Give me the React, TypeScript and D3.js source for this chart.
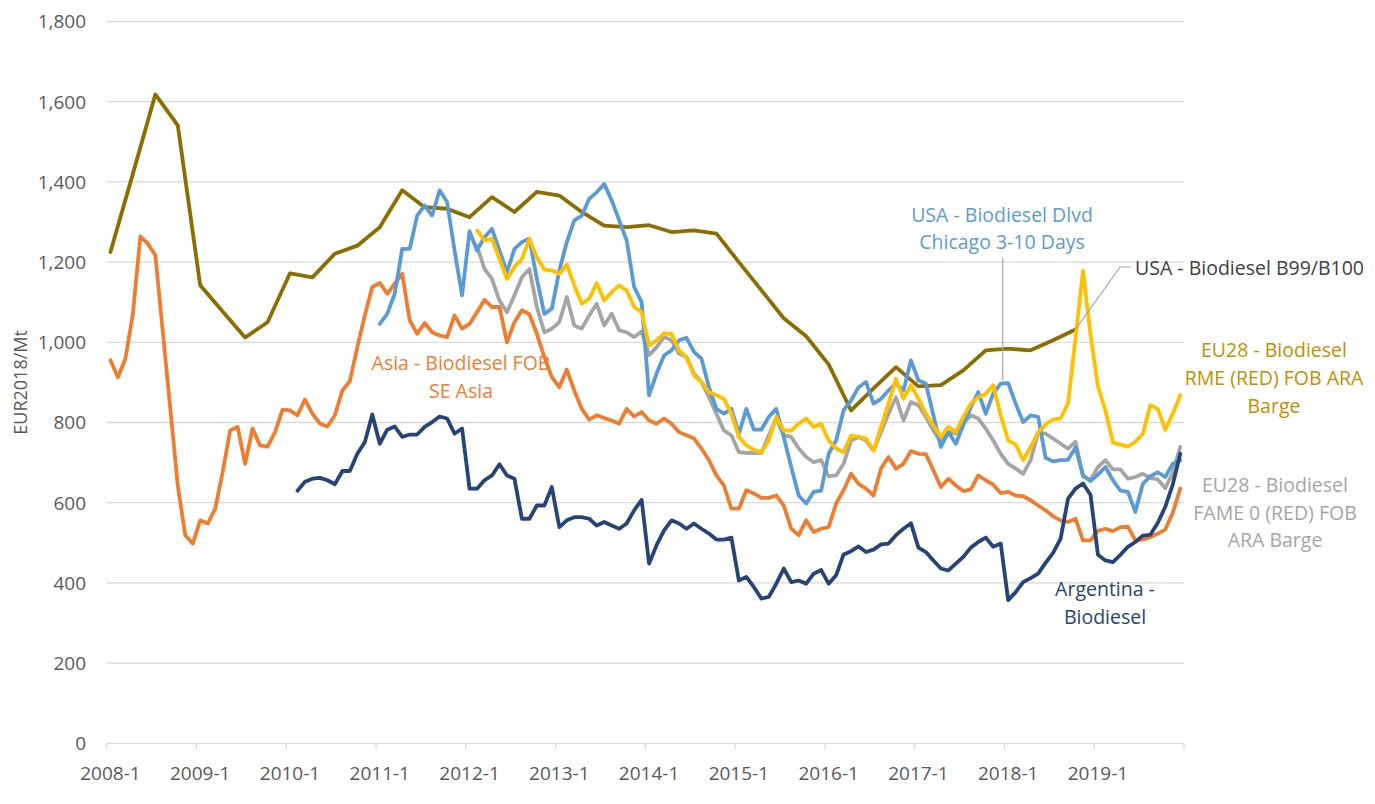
import React from 'react';
import * as d3 from 'd3';

// monthly categories 2008-1 .. 2019-12
const years = d3.range(2008, 2020);
const months: string[] = years.flatMap((yr) => d3.range(1, 13).map((m) => `${yr}-${m}`));
const xTickLabels = years.map((yr) => `${yr}-1`);
const yTicks = [0, 200, 400, 600, 800, 1000, 1200, 1400, 1600, 1800];

// Asia - Biodiesel FOB SE Asia (monthly, from 2008-1)
const asiaStart = '2008-1';
const asiaValues = [
  955, 913, 959, 1071, 1264, 1246, 1217, 1026, 835, 643, 519, 498,
  556, 548, 585, 676, 780, 789, 697, 785, 743, 740, 776, 832,
  830, 818, 857, 822, 797, 790, 818, 880, 903, 988, 1067, 1138,
  1148, 1121, 1146, 1171, 1055, 1021, 1048, 1025, 1017, 1013, 1067, 1034,
  1046, 1075, 1106, 1088, 1088, 1000, 1050, 1080, 1070, 1021, 963, 913,
  888, 932, 880, 834, 807, 818, 811, 805, 797, 834, 815, 826,
  805, 797, 810, 797, 776, 768, 760, 735, 706, 668, 643, 585,
  585, 631, 623, 612, 612, 618, 593, 535, 519, 556, 527, 535,
  539, 598, 631, 672, 647, 635, 618, 685, 714, 685, 697, 729,
  722, 721, 681, 639, 660, 643, 629, 633, 668, 656, 645, 624,
  627, 618, 616, 606, 593, 581, 566, 556, 552, 560, 506, 506,
  530, 535, 529, 539, 540, 506, 508, 514, 523, 533, 575, 635,
];

// Argentina - Biodiesel (monthly, from 2010-2)
const argStart = '2010-2';
const argValues = [
  630, 652, 660, 662, 656, 646, 679, 679, 722, 751, 820,
  747, 782, 790, 764, 770, 770, 789, 801, 815, 810, 772, 785,
  635, 635, 656, 668, 696, 668, 660, 560, 560, 593, 593, 639,
  539, 556, 564, 564, 560, 543, 552, 543, 535, 548, 581, 607,
  448, 494, 531, 556, 548, 535, 548, 535, 523, 508, 508, 513,
  406, 415, 390, 361, 365, 398, 436, 402, 406, 398, 423, 432,
  398, 419, 471, 479, 491, 477, 483, 496, 498, 519, 535, 549,
  488, 477, 456, 436, 431, 448, 465, 488, 502, 513, 490, 498,
  357, 377, 402, 412, 423, 450, 475, 510, 610, 635, 648, 620,
  470, 456, 452, 470, 490, 502, 518, 520, 550, 590, 645, 722,
];

// USA - Biodiesel Dlvd Chicago 3-10 Days (monthly, from 2011-1)
const usaDlvdStart = '2011-1';
const usaDlvdValues = [
  1046, 1071, 1121, 1233, 1233, 1316, 1341, 1316, 1379, 1350, 1229, 1117,
  1277, 1229, 1262, 1283, 1229, 1175, 1233, 1250, 1258, 1158, 1071, 1084,
  1179, 1250, 1304, 1316, 1358, 1374, 1395, 1354, 1304, 1254, 1138, 1100,
  868, 922, 967, 980, 1005, 1011, 976, 959, 888, 834, 822, 834,
  772, 834, 782, 782, 814, 834, 764, 689, 618, 598, 627, 630,
  722, 755, 830, 855, 888, 901, 847, 859, 880, 897, 880, 955,
  905, 897, 818, 739, 776, 747, 793, 838, 876, 822, 872, 897,
  898, 847, 801, 818, 814, 712, 703, 706, 707, 738, 668, 654,
  670, 689, 656, 630, 627, 577, 647, 666, 676, 664, 697, 705,
];

// EU28 - Biodiesel RME (RED) FOB ARA Barge (monthly, from 2012-2)
const rmeStart = '2012-2';
const rmeValues = [
  1279, 1254, 1258, 1208, 1158, 1188, 1208, 1258, 1212, 1181, 1179,
  1171, 1194, 1142, 1096, 1109, 1148, 1104, 1125, 1142, 1129, 1088, 1075,
  992, 1005, 1023, 1021, 980, 963, 917, 901, 876, 868, 859, 822,
  764, 743, 732, 726, 755, 814, 780, 780, 797, 810, 789, 797,
  755, 735, 726, 768, 764, 760, 730, 789, 847, 909, 859, 893,
  859, 822, 793, 764, 789, 776, 814, 847, 863, 872, 893, 818,
  755, 745, 706, 739, 775, 795, 808, 810, 848, 1010, 1178, 1020,
  890, 830, 750, 745, 740, 752, 772, 843, 834, 782, 822, 868,
];

// EU28 - Biodiesel FAME 0 (RED) FOB ARA Barge (monthly, from 2012-2)
const fameStart = '2012-2';
const fameValues = [
  1240, 1183, 1158, 1104, 1075, 1117, 1162, 1183, 1088, 1025, 1034,
  1050, 1113, 1042, 1034, 1067, 1096, 1042, 1071, 1030, 1025, 1013, 1027,
  968, 988, 1013, 1005, 972, 963, 922, 901, 863, 822, 780, 768,
  726, 724, 724, 724, 768, 810, 768, 764, 735, 714, 701, 706,
  666, 668, 697, 755, 764, 755, 730, 776, 822, 863, 805, 851,
  843, 814, 780, 751, 776, 772, 797, 818, 810, 785, 755, 722,
  697, 685, 672, 706, 775, 772, 760, 747, 735, 752, 666, 657,
  689, 706, 683, 683, 660, 664, 672, 662, 658, 636, 675, 739,
];

// USA - Biodiesel B99/B100 (quarterly, 2008-1 .. 2018-10)
const b99Start = '2008-1';
const b99Step = 3;
const b99Values = [
  1225, 1420, 1618, 1541, 1142, 1077, 1012, 1050, 1172, 1162, 1221, 1241,
  1287, 1379, 1337, 1333, 1312, 1362, 1325, 1375, 1366, 1325, 1291, 1287,
  1292, 1275, 1279, 1271, 1200, 1130, 1060, 1015, 945, 830, 885, 938,
  890, 893, 930, 980, 984, 980, 1005, 1032,
];

type Pt = [string, number];

const toPoints = (start: string, values: number[], step = 1): Pt[] => {
  const i0 = months.indexOf(start);
  return values.map((v, i) => [months[i0 + i * step], v] as Pt);
};

const W = 1375;
const H = 804;
const left = 106.7;
const right = 1184;
const top = 21.5;
const bottom = 743.3;
const font = "'Open Sans', sans-serif";

const App: React.FC = () => {
  const x = d3.scaleBand<string>().domain(months).range([left, right]).padding(0);
  const cx = (k: string) => (x(k) as number) + x.bandwidth() / 2;
  const y = d3.scaleLinear().domain([0, 1800]).range([bottom, top]);
  const line = d3
    .line<Pt>()
    .x((d) => cx(d[0]))
    .y((d) => y(d[1]));

  const series = [
    {name: 'b99', pts: toPoints(b99Start, b99Values, b99Step), color: '#8C6D00'},
    {name: 'asia', pts: toPoints(asiaStart, asiaValues), color: '#ED7D31'},
    {name: 'fame', pts: toPoints(fameStart, fameValues), color: '#A5A5A5'},
    {name: 'usa', pts: toPoints(usaDlvdStart, usaDlvdValues), color: '#5B9BD5'},
    {name: 'rme', pts: toPoints(rmeStart, rmeValues), color: '#FFC000'},
    {name: 'arg', pts: toPoints(argStart, argValues), color: '#264478'},
  ];

  // year boundaries for tick marks
  const tickKeys = [...xTickLabels, null];

  // leader anchors taken from the data
  const usaLeaderKey = '2017-12';
  const usaLeaderVal = usaDlvdValues[months.indexOf(usaLeaderKey) - months.indexOf(usaDlvdStart)];
  const b99Last = toPoints(b99Start, b99Values, b99Step).slice(-1)[0];

  return (
    <svg width={W} height={H} style={{position: 'absolute', left: 0, top: 0, background: '#fff'}}>
      {/* gridlines */}
      {yTicks.map((t) => (
        <line key={t} x1={left} x2={right} y1={y(t)} y2={y(t)} stroke="#d9d9d9" strokeWidth={1.3} />
      ))}
      {/* x axis ticks */}
      {tickKeys.map((k, i) => {
        const xx = k ? (x(k) as number) : right;
        return <line key={i} x1={xx} x2={xx} y1={bottom} y2={bottom + 6} stroke="#d9d9d9" strokeWidth={1.3} />;
      })}
      {/* y tick labels */}
      {yTicks.map((t) => (
        <text key={t} x={86} y={y(t)} dy="0.36em" textAnchor="end" fontFamily={font} fontSize={19} fill="#595959">
          {d3.format(',')(t)}
        </text>
      ))}
      {/* x tick labels */}
      {xTickLabels.map((k) => (
        <text key={k} x={cx(k)} y={780} textAnchor="middle" fontFamily={font} fontSize={19} fill="#595959">
          {k}
        </text>
      ))}
      <text
        transform={`translate(21,${(top + bottom) / 2}) rotate(-90)`}
        dy="0.36em"
        textAnchor="middle"
        fontFamily={font}
        fontSize={18}
        fill="#595959"
      >
        EUR2018/Mt
      </text>

      {/* series */}
      {series.map((s) => (
        <path
          key={s.name}
          d={line(s.pts) || ''}
          fill="none"
          stroke={s.color}
          strokeWidth={3.8}
          strokeLinejoin="round"
          strokeLinecap="round"
        />
      ))}

      {/* leader lines */}
      <line x1={cx(usaLeaderKey) + 2} x2={cx(usaLeaderKey) + 2} y1={258} y2={y(usaLeaderVal) - 3} stroke="#a6a6a6" strokeWidth={1.2} />
      <polyline
        points={`${cx(b99Last[0])},${y(b99Last[1])} 1120,267 1131,267`}
        fill="none"
        stroke="#a6a6a6"
        strokeWidth={1.2}
      />

      {/* series labels */}
      <g fontFamily={font} fontSize={19.5} textAnchor="middle">
        <text fill="#5B9BD5">
          <tspan x={1002} y={222}>USA - Biodiesel Dlvd</tspan>
          <tspan x={1002} y={249}>Chicago 3-10 Days</tspan>
        </text>
        <text fill="#404040" textAnchor="start">
          <tspan x={1135} y={275}>USA - Biodiesel B99/B100</tspan>
        </text>
        <text fill="#BF9000">
          <tspan x={1274} y={357}>EU28 - Biodiesel</tspan>
          <tspan x={1274} y={385}>RME (RED) FOB ARA</tspan>
          <tspan x={1274} y={413}>Barge</tspan>
        </text>
        <text fill="#A5A5A5">
          <tspan x={1275} y={492}>EU28 - Biodiesel</tspan>
          <tspan x={1275} y={520}>FAME 0 (RED) FOB</tspan>
          <tspan x={1275} y={547}>ARA Barge</tspan>
        </text>
        <text fill="#264478">
          <tspan x={1105} y={596}>Argentina -</tspan>
          <tspan x={1105} y={624}>Biodiesel</tspan>
        </text>
        <text fill="#ED7D31">
          <tspan x={461} y={370}>Asia - Biodiesel FOB</tspan>
          <tspan x={461} y={398}>SE Asia</tspan>
        </text>
      </g>
    </svg>
  );
};

export default App;
